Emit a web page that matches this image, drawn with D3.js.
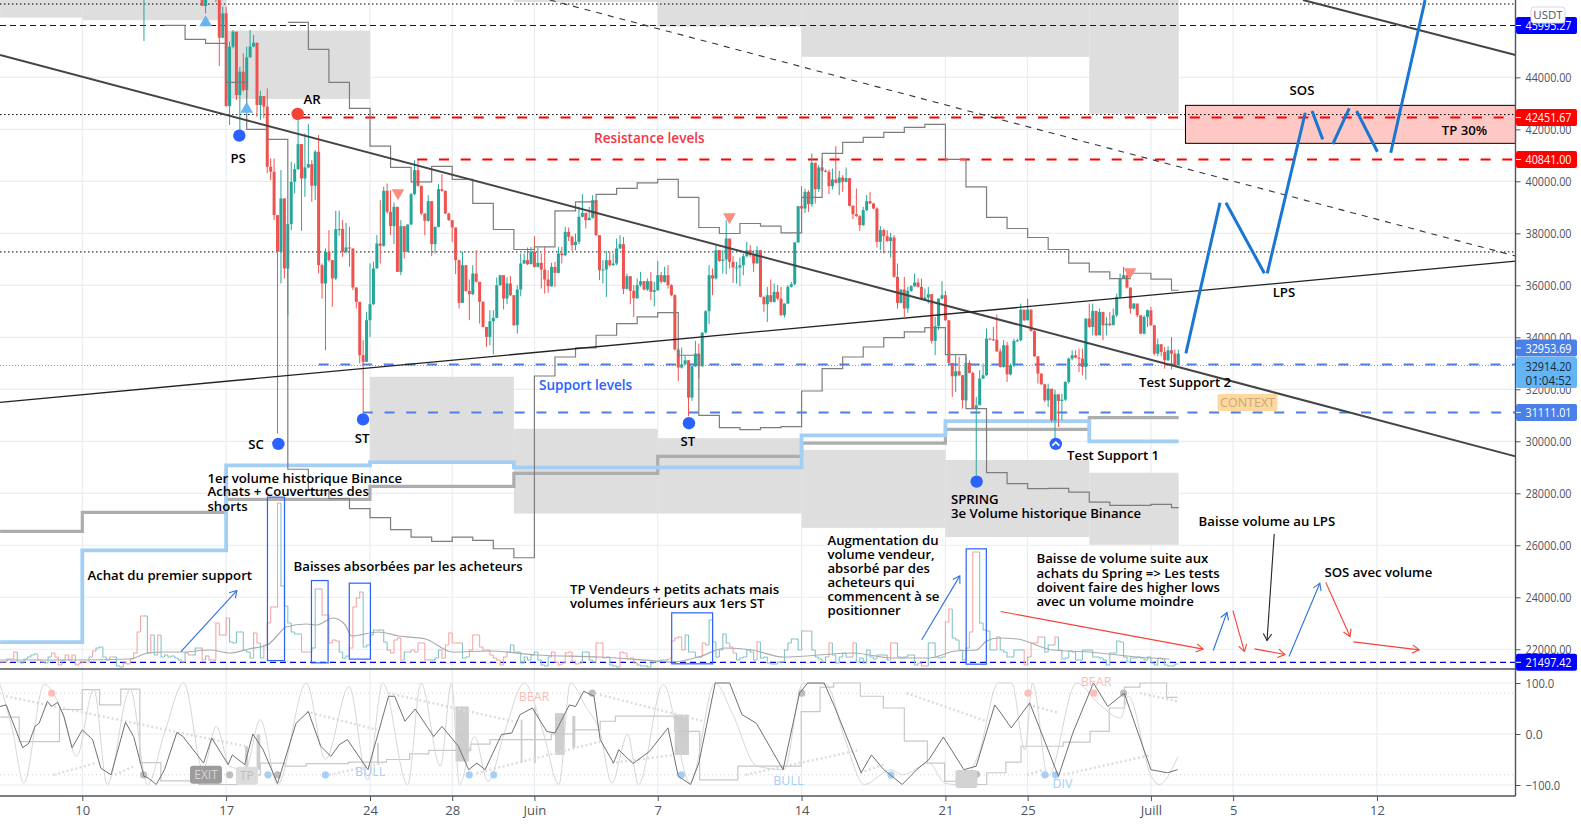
<!DOCTYPE html>
<html>
<head>
<meta charset="utf-8">
<script src="https://cdn.jsdelivr.net/npm/d3@7"></script>
<style>
  html, body { margin: 0; background: #fff; }
  svg { display: block; font-family: "Open Sans", sans-serif; }
</style>
</head>
<body>
<svg id="chart" width="1581" height="824"></svg>
<script>
// Time is in "days of May": 32 = 1 June, 62 = 1 July
const dayTicks = [10, 17, 24, 28, 32, 38, 45, 52, 56, 62, 66, 73];
const dayLabels = ["10", "17", "24", "28", "Juin", "7", "14", "21", "25", "Juill", "5", "12"];
const priceTicks = [44000, 42000, 40000, 38000, 36000, 34000, 32000, 30000, 28000, 26000, 24000, 22000];
const oscTicks = [100, 0, -100];

// 4h candles, first one at day 15.83, open of each = previous close
const firstOpen = 47300;
const closes = [
  46745, 47230, 47600, 47900, 47100, 45526, 46463, 42896, 45180, 45757, 43319, 44218, 43512, 44769, 45180, 45334, 42935, 43281, 42870, 40561,
  40368, 38700, 37289, 39342, 36648, 38354, 39984, 40471, 41433, 40112, 40535, 40664, 39830, 41138, 36776, 36070, 37289, 36969, 36263, 38162,
  38170, 37289, 37456, 37417, 35917, 35365, 33312, 33055, 34659, 35275, 36648, 37610, 37520, 39637,
  38827, 38276, 39020, 36518, 38276, 37288, 38340, 39507, 40431, 39828, 38763, 38481, 39238, 37583, 38250, 39700, 39636, 38763, 38506, 38224,
  36967, 35325, 36774, 35787, 35658, 36454, 36133, 35363, 34401, 34016, 34619, 34747, 36005, 36390, 35491, 36069, 35620, 34465, 35838, 36839,
  36967, 36813, 37288, 36710, 36864, 36608, 36223, 35966, 36710, 36479, 37223, 37159, 38057,
  37865, 37544, 37672, 38635, 38789, 38506, 38596, 39276, 37929, 36582, 36608, 36967, 36774, 36839, 37416, 37583, 35863, 36351, 35787, 35504,
  36005, 36159, 35838, 36159, 35748, 35812, 36390, 36133, 36390, 36005, 35620, 33528, 32835, 32964, 33118, 31681, 32887, 33374, 32887, 34183,
  35004, 36390, 36261, 37352, 36941, 36992, 37801, 36903, 36685, 36685, 36774, 37121, 37352, 37159, 36839, 37352, 35555, 35273, 35620, 35363,
  35748, 35491, 34850, 35299, 35940, 36043, 37647, 39045,
  38956, 39597, 39123, 40714, 39700, 40534, 40406, 40367, 39815, 40072, 39944, 40149, 39982, 40123, 39058, 38738, 38661, 38314, 38892, 39238,
  39148, 38956, 37673, 38122, 37891, 37699, 37840, 36326, 35325, 35838, 35107, 35787, 35966, 36108, 35941, 35453, 35530, 35659, 33862, 34427,
  35492, 35620, 34658, 33015, 32502, 32695, 32541, 31579, 33015, 32631, 31258, 31386, 32413, 32541, 33952,
  33924, 33911, 33462, 32859, 33693, 32577, 32923, 33860, 33886, 35066, 34655, 35066, 34245, 33270, 32603, 32192, 31576, 32025, 30807, 31807,
  31551, 31602, 32282, 33180, 33308, 33219, 33180, 32859, 34720, 34399, 35015, 34078, 34976, 34463, 34527, 34463, 34848, 35554, 36259, 36388,
  35913, 35105, 35297, 34848, 34142, 34784, 35040, 34463, 33372, 33732, 33437, 33116, 33501, 33372, 32924, 33372
];
const highs = [
  48000, 47500, 48200, 48300, 48000, 47500, 46720, 46720, 45372, 45821, 45757, 44410, 44923, 45180, 45821, 45629, 45334, 43486, 43281, 43576,
  40882, 40882, 38700, 40433, 39342, 38354, 40753, 40689, 42357, 41433, 41844, 42203, 40818, 41202, 41780, 36840, 37417, 38123, 36969, 38868,
  38868, 38508, 38405, 38252, 37417, 35917, 35365, 33889, 34980, 36840, 36904, 37931, 39278, 39791,
  39918, 39661, 39186, 39020, 38506, 38276, 38340, 39559, 40816, 40816, 39828, 38763, 39469, 39238, 38250, 39892, 40277, 39636, 38789, 38506,
  38224, 36992, 37288, 36774, 36223, 36774, 37352, 36133, 35389, 34401, 35042, 35042, 36300, 36390, 36390, 36300, 36351, 35620, 36005, 37223,
  37223, 37454, 37480, 37890, 37454, 37223, 37480, 36582, 36864, 36903, 37480, 37480, 38250,
  38224, 37904, 37993, 39020, 39507, 38789, 39020, 39469, 39276, 37929, 36967, 37313, 37288, 37223, 37801, 37929, 37865, 36454, 36351, 36005,
  36261, 36518, 36159, 36261, 36518, 36133, 36941, 36518, 36710, 36774, 36043, 35658, 33567, 33605, 33310, 33118, 32887, 33862, 33759, 34183,
  35042, 36774, 36646, 37544, 37352, 37352, 38506, 37801, 37121, 36903, 37070, 37223, 37672, 37544, 37352, 37506, 37352, 35581, 35940, 36223,
  36069, 36005, 35940, 35299, 36005, 36133, 37672, 39045,
  39815, 39726, 39661, 41073, 40714, 40624, 40880, 40457, 40457, 40495, 41355, 40406, 40239, 40534, 40123, 39084, 39726, 38699, 39020, 39469,
  39597, 39174, 38994, 38276, 38186, 38122, 38019, 37930, 36839, 35838, 36326, 35941, 36005, 36454, 36262, 36262, 35877, 35941, 35659, 34786,
  35492, 36159, 35787, 34658, 33015, 33311, 33246, 32541, 33272, 33118, 32669, 31707, 32733, 32990, 34337,
  33950, 34399, 34874, 33565, 33886, 33822, 32988, 33950, 33950, 35297, 35040, 35489, 35066, 34271, 33270, 32603, 32218, 32218, 31987, 31987,
  31807, 31833, 32310, 33219, 33501, 33501, 33565, 33565, 34720, 35297, 35297, 35015, 35105, 34976, 34784, 34976, 35105, 35682, 36452, 36708,
  36580, 35913, 35323, 35297, 34848, 34848, 35066, 35169, 34463, 33950, 33732, 33630, 33655, 34014, 33527, 33527
];
const lows = [
  46745, 46460, 47100, 47300, 46900, 44436, 45500, 42870, 42165, 45116, 43127, 41972, 43448, 43191, 44769, 45180, 42485, 42357, 42421, 40304,
  40048, 38508, 30300, 36070, 36263, 34852, 38123, 39535, 40433, 38098, 39406, 40497, 39214, 39278, 36455, 35493, 33504, 36904, 35172, 36200,
  37900, 37097, 37225, 36712, 35815, 35108, 32991, 31131, 33055, 34018, 35237, 36648, 36840, 37482,
  38760, 37929, 37583, 36518, 36390, 37031, 37288, 38314, 39469, 39790, 38699, 37929, 38442, 37121, 37223, 38224, 39597, 38737, 38481, 37672,
  36428, 35107, 35325, 35748, 34658, 35620, 36107, 34529, 34375, 33631, 33695, 33349, 34747, 35979, 35068, 35273, 35581, 34439, 34144, 35581,
  36813, 36774, 36813, 36684, 36684, 35876, 35684, 35710, 35940, 35940, 36454, 36839, 37121,
  37700, 37326, 37352, 37583, 38609, 38186, 38506, 38571, 37904, 36197, 36069, 35555, 36710, 36749, 36774, 37403, 35658, 35838, 35273, 34786,
  35479, 35940, 35812, 35787, 35427, 35196, 35787, 36069, 36107, 35876, 35581, 33503, 32322, 32797, 32925, 30963, 31553, 32861, 32412, 32861,
  34144, 34503, 35620, 36223, 36903, 36454, 36428, 36646, 36094, 36069, 35966, 36390, 37070, 37095, 36518, 37095, 35530, 34978, 34593, 35338,
  35338, 35427, 34824, 34760, 35273, 35915, 36005, 37647,
  38699, 38789, 38828, 39020, 39148, 39597, 40367, 40341, 39508, 39687, 39918, 39469, 39597, 39957, 39033, 38545, 38635, 38096, 38289, 38853,
  39123, 38930, 37455, 37352, 37224, 37673, 37070, 36300, 35107, 35299, 34786, 34940, 35748, 35941, 35915, 35427, 35427, 35299, 33760, 33311,
  34273, 35453, 34632, 32990, 31707, 31899, 32515, 31258, 31553, 32605, 31232, 28700, 31604, 32400, 32515,
  33880, 33860, 33430, 32834, 32834, 32282, 32538, 32859, 33822, 33847, 34630, 34655, 34220, 33244, 32218, 32170, 31512, 31320, 30743, 30101,
  30550, 30807, 31551, 32218, 33116, 33190, 32667, 32538, 32372, 34370, 34078, 34040, 34078, 33886, 34078, 34440, 34591, 34784, 35489, 36259,
  35874, 34912, 35079, 34784, 34120, 34117, 34399, 34440, 33308, 33270, 33270, 32795, 33090, 32757, 32924, 32949
];
// the lone wick of an older candle that dips into the view
const earlyWickDay = [13];
const earlyWickHigh = [47100];
const earlyWickLow = [45400];

// signed volume per 4h bar from day 6: positive = up bar, negative = down bar
const volumes = [
  -6, -6, 9, -9, -16, 6, 5, 9, 11, 13, 14, -8, -6, 5, 11, -15, -11, -3, 8, -13, -8, -13, -3, -5, -6, -6, 11, -17, 20, 21,
  11, 8, -11, 11, 2, 1, -5, -4, -9, -15, -36, -52, 52, 15, -33, 13, -33, 11, 13, 11, 12, 10, 8, -6, 15, -13, 13, 20, 20, -8,
  12, -8, -8, -45, -33, -33, -50, 26, 25, 36, 36, 18, 16, 10, -35, -25, 10, -23,
  -45, -61, -61, -165, 82, 62, 45, 36, 34, 34, -16, -16, -16, 20, 79, 79, -53, -53, -25, -28, -27, 16, 10, 12, -20, -61, -70, -76, 21, 23, 33, 38, 38, 38,
  26, 18, -15, -28, -30, -8, 16, 16, -18, -16, -25, -25, -8, 8, 8, 10, 18, -10, -23, -35, -25, -25, -25, 10, 11, -18, -33, -33, -21, -18, -18, -13, -10, -8, -3, -11, -16,
  23, 16, 16, 5, 11, 8, 13, 16, 8, 3, 2, 11, -16, -6, -3, -5, -15, -16, -7, -4, -5, 16, 16, 8, 6, -25,
  -25, -10, 11, 3, 2, 1, -16, -15, -9, -10, -5, 3, 2, 2, 1, 5, 6, 7, 8, 8, -9, -27, -30, -31, -18, 33, 16, 16, 11, 11,
  -25, -23, 48, 26, 11, 18, 34, 25, -21, -15, 8, 10, 11, 18, 16, 8, -26, 10, 11, 5, 4, 4, 6, 6, 18, 25, 29, 29, 18, 37,
  -37, -37, 18, 11, 9, 6, 11, -25, 13, 5, 11, 15, 11, 11, -25, 6, 10, 5, 18, 11, 9, 13, 13, 13, 8, -25, -25, 11, 10, 11,
  13, 13, 3, -5, -2, -2, 25, 25, 11, 10, 11, -46, -59, 30, 28, 18, 8, 20, -36, -116, -116, 45, 38, 37, 18, 18, -31, 18, 16, 11,
  11, 18, 18, 18, -3, 11, -25, -25, -31, -31, 16, 23, 23, -31, 18, 9, 10, 17, 16, 8, 8, 18, 18, 18, 11, 11, 10, 8, 3, 15,
  15, 27, 26, 11, 6, 10, 10, 11, 10, 8, 11, 5, 3, 10, 9, 3, 2, 2, 4
];
const volumeMA = [
  [6, 8], [9.7, 8], [12.3, 9], [13.2, 15], [14, 16], [14.9, 16], [16.2, 18], [17.2, 15], [18.1, 19], [19, 23], [19.6, 35], [19.9, 41],
  [20.9, 44], [21.4, 43], [22.2, 50], [22.8, 43], [23.1, 32], [24.4, 36], [25.4, 32], [26.7, 29], [28, 16], [29.8, 17], [32.1, 13], [35.2, 11],
  [38, 7], [38.7, 6], [40, 11], [41.3, 20], [42.6, 18], [44.1, 11], [47.5, 15], [49.4, 10], [51.2, 10], [52.5, 17], [53.5, 18], [54, 27],
  [54.6, 30], [55.5, 29], [57.2, 18], [59, 16], [61.3, 11], [62.9, 9]
];

// daily stepped range lines, first value is for the start day
const upperBandStart = 20;
const upperBand = [46118, 45078, 43807, 42806, 41355, 40535, 39981, 40574, 40073, 39149, 38148, 37378, 37478, 38864, 39211, 39495, 39727, 39942, 40073, 39380,
  38225, 37994, 38379, 38275, 38017, 39380, 41074, 41497, 41689, 41882, 42075, 42190, 40843, 39788, 38610, 38186, 37840, 37378, 36850, 36515, 36260, 36465, 36235, 35810];
const lowerBandStart = 14;
const lowerBand = [46002, 45463, 45309, 43807, 41998, 41613, 28925, 28112, 27791, 27406, 27060, 26598, 26313, 26148, 26313, 26186, 25866, 25520, 32512, 33243,
  33590, 34079, 34529, 34783, 34952, 33309, 31000, 30525, 30448, 30525, 30563, 31934, 32796, 33243, 33628, 33990, 34206, 34375, 33335, 31257, 28792, 28369, 28177, 28190,
  28046, 27660, 27535, 27535, 27572, 27445];
const bandEnd = 63.35;

// weekly thick steps
const weekStarts = [6, 10, 17, 24, 31, 38, 45, 52, 59];
const blueWeekly = [22271, 25801, 29074, 29201, 28996, 28996, 30228, 30779, 29997];
const grayWeekly = [26533, 27265, 27766, 28266, 28767, 29421, 29933, 30460, 30910];

// grey supply / demand blocks: day from, day to, price top, price bottom
const grayZones = [
  [6, 10, 47500, 46300], [10, 17, 47500, 46200], [17, 24, 45800, 43170], [31, 38, 47500, 46900], [38, 45, 47500, 45950], [45, 59, 47500, 44790],
  [59, 63.35, 47500, 42600], [24, 31, 32480, 29250], [31, 38, 30480, 27220], [38, 45, 30120, 27220], [45, 52, 29670, 26670], [52, 59, 29280, 26320], [59, 63.35, 28790, 26020]
];

// horizontal levels
const dottedLevels = [46821, 42568, 37285];
const navyLevels = [45995.27, 21497.42];
const resistanceLevels = [[20.6, 42451.67], [26.3, 40841]];
const supportLevels = [[21.5, 32953.69], [23.65, 31111.01]];
const lastPrice = 32914.2;

// trend lines: day, price, day, price
const mainTrendLines = [[6, 44859, 79.74, 29420], [69.4, 46976, 79.74, 44859]];
const thinTrendLines = [[6, 31499, 79.74, 36928]];
const dashedTrendLines = [[32.75, 46976, 79.74, 37128]];

// projected path, the strokes do not touch each other
const forecastStrokes = [
  [63.70, 33385, 65.36, 39177], [65.65, 39177, 67.52, 36462], [67.66, 36462, 69.51, 42639], [69.84, 42704, 70.36, 41615],
  [70.85, 41435, 71.65, 42808], [72.01, 42704, 73.02, 41139], [73.67, 41100, 75.34, 46973]
];
const tpBox = [63.68, 79.74, 42923, 41462];

const volumeBoxes = [
  [19.01, 19.84, 27850, 21565], [21.15, 21.96, 24643, 21477], [22.99, 24.02, 24542, 21620], [38.68, 40.67, 23400, 21439], [53.01, 53.99, 25862, 21426]
];
const blueArrows = [[14.8, 21911, 17.52, 24257], [50.85, 22362, 52.7, 24823], [65.03, 21950, 65.7, 23412], [68.72, 21719, 70.22, 24542]];
const redArrows = [[54.69, 23450, 64.54, 22004], [65.99, 23488, 66.55, 21912], [67.04, 22015, 68.52, 21796], [70.51, 24565, 71.69, 22488], [71.85, 22285, 75.05, 21977]];
const blackArrows = [[68, 26438, 67.65, 22334]];

const blueDots = [[17.64, 41757], [19.54, 29900], [23.66, 30842], [39.52, 30696], [53.52, 28450], [57.37, 29900]];
const redDots = [[20.48, 42592]];
const upTriangles = [[16, 46103], [18, 42784]];
const downTriangles = [[25.36, 39553], [41.49, 38630], [60.98, 36515]];
const crosses = [[13.12, 46014], [38.81, 30373]];

// text, day, price
const startLabels = [
  ["3e Volume historique Binance", 52.27, 27208], ["SPRING", 52.27, 27746], ["Test Support 1", 57.92, 29477], ["Test Support 2", 61.42, 32284],
  ["TP 30%", 76.15, 41976], ["1er volume historique Binance", 16.09, 28592], ["Achats + Couvertures des", 16.09, 28054], ["shorts", 16.09, 27488],
  ["Achat du premier support", 10.25, 24835], ["Baisses absorbées par les acheteurs", 20.28, 25181],
  ["TP Vendeurs + petits achats mais", 33.73, 24285], ["volumes inférieurs aux 1ers ST", 33.73, 23746],
  ["Augmentation du", 46.26, 26181], ["volume vendeur,", 46.26, 25631], ["absorbé par des", 46.26, 25092], ["acheteurs qui", 46.26, 24554], ["commencent à se", 46.26, 24015], ["positionner", 46.26, 23477],
  ["Baisse de volume suite aux", 56.43, 25477], ["achats du Spring => Les tests", 56.43, 24927], ["doivent faire des higher lows", 56.43, 24373], ["avec un volume moindre", 56.43, 23835],
  ["Baisse volume au LPS", 64.32, 26912], ["SOS avec volume", 70.44, 24950]
];
const middleLabels = [["PS", 17.58, 40899], ["AR", 21.18, 43168], ["SC", 18.45, 29900], ["ST", 23.61, 30130], ["ST", 39.47, 30015], ["SOS", 69.35, 43515], ["LPS", 68.47, 35746]];

// oscillator pane: [day, value]
const oscDark = [
  [6, 54], [6.3, 57], [6.5, 35], [7.1, -27], [7.4, -18], [7.7, 15], [7.9, 21], [8.3, 64], [8.5, 54], [8.8, 62], [9.1, 35], [9.5, -27], [10, 8], [10.5, -11],
  [10.9, -67], [11.4, -80], [12.1, 23], [12.5, -5], [13, -83], [13.2, -86], [13.6, -99], [14, -70], [14.6, 3], [14.9, -5], [15.9, -57], [16.3, -8], [17.1, -60],
  [17.3, -41], [17.9, -60], [18.3, 0], [18.8, -31], [19.5, -97], [20.4, 21], [21, 44], [21.6, -24], [22.1, -44], [22.5, -21], [22.9, -11], [23.9, -70], [24.9, 74],
  [25.2, 74], [25.7, 25], [26.2, 49], [27.1, -5], [27.5, 15], [28.3, -24], [28.8, -70], [29.2, -57], [29.6, -70], [30.4, -1], [30.9, 2], [31.3, 38], [31.9, 51],
  [32.6, 5], [33, 2], [33.7, 57], [34, 54], [34.4, 84], [34.9, 74], [35.2, -11], [35.85, -57], [36.1, -31], [36.8, -58], [37.6, -34], [38.5, 12], [39, -83],
  [39.6, -99], [40, -57], [40.8, 100], [41.5, 100], [42.1, 38], [42.8, 21], [44.1, -70], [44.9, 80], [45.3, 100], [46.1, 100], [46.6, 54], [47.9, -76], [48.4, -41],
  [49, -70], [49.9, -99], [50.6, -70], [51.2, -50], [51.9, -6], [52.9, -70], [53.5, -63], [54.4, 57], [54.7, 41], [55.2, 12], [56.1, 61], [57.5, -83], [58.2, 2],
  [59.2, 100], [59.9, 54], [60.7, 80], [62, -70], [62.8, -76], [63.3, -70]
];
const oscLight = [
  [6, 97], [6.6, 8], [7.15, -96], [8.14, 97], [9.07, 38], [9.72, -44], [10.56, 88], [11.21, -99], [12.33, 88], [13.17, -99], [14, 2], [14.94, 100], [15.87, -70],
  [16.52, 15], [17.17, -63], [17.92, -70], [18.66, 28], [19.5, -99], [20.9, 100], [21.83, -50], [22.98, 93], [23.88, -90], [24.62, 100], [25.83, -99], [26.48, 100],
  [27.42, -63], [27.97, 100], [28.35, -99], [29.09, -5], [29.74, -93], [30.58, 8], [31.51, 100], [32.44, 2], [33.19, -99], [33.75, 100], [34.49, 54], [35.2, 2],
  [35.76, -96], [36.54, -1], [37.06, -99], [38.27, 97], [39.58, -96], [40.79, 100], [41.62, 41], [42.83, -63], [44.14, -70], [45.07, 100], [46.19, 97], [47.12, -11],
  [48.05, -99], [49.35, -70], [49.91, -80], [51.21, -57], [51.96, -96], [52.52, -99], [53.64, -37], [54.57, 100], [55.22, 100], [55.87, -31], [56.24, 100], [56.99, -83],
  [58.38, 100], [59.41, 61], [60.53, 31], [60.9, 74], [62.02, -83], [62.39, -99], [63.32, -44]
];
const oscSteps = [
  [6, 33], [6.93, -15], [8.89, 48], [10, 87], [10.84, 57], [11.87, 88], [12.8, -56], [13.82, -92], [15.68, -99], [17.55, -80], [18.66, -57], [19.87, -63], [20.9, -58],
  [22.95, -55], [24.8, -50], [25.93, -39], [26.86, -32], [28.9, -20], [29.84, -11], [32.82, 0], [33.93, 8], [35.2, 25], [35.94, 35], [38.83, 5], [40.04, -90], [41.9, -63],
  [44.98, 44], [45.9, 92], [46.56, 100], [47.86, 74], [48.98, 51], [50, -14], [51.12, -57], [51.96, -93], [53.08, -99], [54.01, -76], [54.94, -55], [55.68, -24],
  [57.73, -16], [59.04, 5], [59.97, 51], [60.71, 92], [61.46, 100], [62.76, 72], [63.3, 72]
];
const oscDivergences = [
  [6.28, 74, 17.92, -24], [20.9, 44, 24.34, 8], [24.9, 80, 30.95, 25], [8.6, -80, 10.66, -57], [11.59, -80, 12.52, -63], [22.01, -80, 24.62, -57], [29.18, -77, 35.2, -15],
  [35.2, 77, 40.23, 25], [50.1, 80, 54.01, 25], [56.06, 57, 57.55, 41], [61.46, 80, 63.32, 64], [35.76, -57, 38.74, -41], [42.28, -80, 47.86, -31], [47.86, -76, 48.98, -60],
  [55.96, -80, 56.8, -70], [57.73, -80, 62.02, -41]
];
const oscShades = [
  [28.16, 28.81, 54, -54], [33, 33.47, 41, -41], [33.84, 33.99, 35, -27], [18.48, 18.66, -1, -70], [17.92, 18.07, -24, -70], [24.34, 24.43, -18, -57],
  [31.33, 31.42, 28, -57], [31.98, 32.07, 51, -57], [38.83, 39.52, 38, -41]
];
const oscRedDots = [[8.51, 80], [56.02, 80], [59.22, 80]];
const oscGrayDots = [[12.98, -80], [17.17, -80], [19.5, -80], [34.81, 80], [45.01, 80], [53.51, -79], [60.67, 80]];
const oscBlueDots = [[19.04, -80], [21.83, -80], [28.83, -80], [30.02, -80], [39.15, -80], [49.35, -80], [53.04, -80], [56.84, -80], [57.36, -80]];
const oscRedTags = [["BEAR", 31.98, 74], ["BEAR", 59.33, 103]];
const oscBlueTags = [["BULL", 24.01, -73], ["BULL", 44.36, -91], ["DIV", 57.7, -98]];
const oscGrayTags = [["EXIT", 16.02, -80, "#9c9c9c", "#d6d6d6", 30], ["TP", 18.01, -82, "#dcdcdc", "#bdbdbd", 20], ["", 53.02, -88, "#d2d2d2", "#bbb", 20]];

// right axis price flags: text, price, fill
const priceFlags = [
  ["45995.27", 45995.27, "#0000ff"], ["42451.67", 42451.67, "#ff0000"], ["40841.00", 40841, "#ff0000"], ["31111.01", 31111.01, "#4a80e8"], ["21497.42", 21497.42, "#0000ff"]
];

const svg = d3.select("#chart");
const x = d3.scaleLinear().domain([5.995, 79.74]).range([0, 1515.5]);
const y = d3.scaleLinear().domain([21240, 46976]).range([669, 0]);
const yVol = d3.scaleLinear().domain([0, 170]).range([668, 498]);
const yOsc = d3.scaleLinear().domain([-100, 100]).range([785, 683]);
const up = "#26a69a", down = "#ef5350", axisCol = "#50535e", gridCol = "#e8eef3";
const seg = (g, rows, fx, fy) => g.selectAll(null).data(rows).join("line")
  .attr("x1", d => fx(d[0])).attr("y1", d => fy(d[1])).attr("x2", d => fx(d[2])).attr("y2", d => fy(d[3]));

svg.append("defs").append("clipPath").attr("id", "mainClip").append("rect").attr("width", 1515.5).attr("height", 669);
svg.select("defs").append("clipPath").attr("id", "oscClip").append("rect").attr("y", 670).attr("width", 1515.5).attr("height", 126);

// grid
const grid = svg.append("g").attr("stroke", gridCol).attr("stroke-width", 1.2);
grid.selectAll(null).data(dayTicks).join("line").attr("x1", d => x(d)).attr("x2", d => x(d)).attr("y1", 0).attr("y2", 796);
grid.selectAll(null).data(priceTicks).join("line").attr("x1", 0).attr("x2", 1515.5).attr("y1", d => y(d)).attr("y2", d => y(d));
grid.selectAll(null).data(oscTicks).join("line").attr("x1", 0).attr("x2", 1515.5).attr("y1", d => yOsc(d)).attr("y2", d => yOsc(d));

const main = svg.append("g").attr("clip-path", "url(#mainClip)");

main.append("g").attr("fill", "#dedede").selectAll("rect").data(grayZones).join("rect")
  .attr("x", d => x(d[0])).attr("width", d => x(d[1]) - x(d[0])).attr("y", d => y(d[2])).attr("height", d => y(d[3]) - y(d[2]));

// TP box sits under the candles and levels
main.append("rect").attr("x", x(tpBox[0])).attr("width", x(tpBox[1]) - x(tpBox[0])).attr("y", y(tpBox[2])).attr("height", y(tpBox[3]) - y(tpBox[2]))
  .attr("fill", "#ffc8c4").attr("stroke", "#000").attr("stroke-width", 1);

// levels
const level = (rows, col, dash, w) => main.append("g").attr("stroke", col).attr("stroke-width", w).attr("stroke-dasharray", dash)
  .selectAll("line").data(rows).join("line").attr("x1", d => x(d[0])).attr("x2", 1515.5).attr("y1", d => y(d[1])).attr("y2", d => y(d[1]));
level(dottedLevels.map(p => [5.995, p]), "#000", "1.5 2.5", 1);
level(navyLevels.map(p => [5.995, p]), "#0000d0", "6 4", 1.2);
level([[5.995, lastPrice]], "#64a8f0", "1 2", 1);
level(resistanceLevels, "#ff0000", "10 11.7", 2);
level(supportLevels, "#4a80e8", "10 11.7", 2);

// weekly thick steps
const stepLine = d3.line().curve(d3.curveStepAfter).x(d => x(d[0])).y(d => y(d[1]));
const weekly = vals => weekStarts.map((d, i) => [d, vals[i]]).concat([[bandEnd, vals[vals.length - 1]]]);
main.append("path").attr("d", stepLine(weekly(grayWeekly))).attr("fill", "none").attr("stroke", "#adadad").attr("stroke-width", 3.2);
main.append("path").attr("d", stepLine(weekly(blueWeekly))).attr("fill", "none").attr("stroke", "#a3cff5").attr("stroke-width", 3.8);

// candles
const candles = closes.map((c, i) => ({
  day: 15.8333 + i / 6, open: i ? closes[i - 1] : firstOpen, close: c, high: highs[i], low: lows[i]
}));
const candleG = main.append("g");
candleG.append("g").attr("stroke", up).selectAll("line").data(earlyWickDay).join("line")
  .attr("x1", d => x(d)).attr("x2", d => x(d)).attr("y1", (d, i) => y(earlyWickHigh[i])).attr("y2", (d, i) => y(earlyWickLow[i]));
candleG.selectAll("line.wick").data(candles).join("line").attr("class", "wick")
  .attr("x1", d => x(d.day)).attr("x2", d => x(d.day)).attr("y1", d => y(d.high)).attr("y2", d => y(d.low))
  .attr("stroke", d => d.close >= d.open ? up : down).attr("stroke-width", 1);
candleG.selectAll("rect").data(candles).join("rect")
  .attr("x", d => x(d.day) - 1.5).attr("width", 3)
  .attr("y", d => y(Math.max(d.open, d.close))).attr("height", d => Math.max(1, Math.abs(y(d.open) - y(d.close))))
  .attr("fill", d => d.close >= d.open ? up : down);

// daily range lines
const daily = (vals, start) => vals.map((v, i) => [start + i, v]).concat([[bandEnd, vals[vals.length - 1]]]);
main.append("g").attr("fill", "none").attr("stroke", "#7d7d7d").attr("stroke-width", 1.2).selectAll("path")
  .data([daily(upperBand, upperBandStart), daily(lowerBand, lowerBandStart)]).join("path").attr("d", stepLine);

// volume as stepped outline
const barW = x(6 + 1 / 6) - x(6);
const volG = main.append("g").attr("fill", "none").attr("stroke-width", 1.1);
volG.selectAll("path").data(volumes).join("path")
  .attr("stroke", d => d >= 0 ? "#86c5c9" : "#f6a6a6")
  .attr("d", (d, i) => {
    const prev = i ? Math.abs(volumes[i - 1]) : Math.abs(d);
    const x0 = x(6 + i / 6);
    return d3.line()([[x0, yVol(prev)], [x0, yVol(Math.abs(d))], [x0 + barW, yVol(Math.abs(d))]]);
  });
main.append("path").attr("fill", "none").attr("stroke", "#ababab").attr("stroke-width", 1.2)
  .attr("d", d3.line().curve(d3.curveMonotoneX).x(d => x(d[0])).y(d => yVol(d[1]))(volumeMA));

// trend lines
seg(main.append("g").attr("stroke", "#454545").attr("stroke-width", 2), mainTrendLines, x, y);
seg(main.append("g").attr("stroke", "#222").attr("stroke-width", 1.3), thinTrendLines, x, y);
seg(main.append("g").attr("stroke", "#333").attr("stroke-width", 1.1).attr("stroke-dasharray", "6 6"), dashedTrendLines, x, y);

// forecast
seg(main.append("g").attr("stroke", "#1976d2").attr("stroke-width", 3), forecastStrokes, x, y);

// boxes and arrows over the volume
main.append("g").attr("fill", "none").attr("stroke", "#2962ff").attr("stroke-width", 1.2).selectAll("rect").data(volumeBoxes).join("rect")
  .attr("x", d => x(d[0])).attr("width", d => x(d[1]) - x(d[0])).attr("y", d => y(d[2])).attr("height", d => y(d[3]) - y(d[2]));
function arrows(rows, col) {
  const g = main.append("g").attr("stroke", col).attr("stroke-width", 1.1).attr("fill", "none");
  seg(g, rows, x, y);
  g.selectAll("path").data(rows).join("path").attr("d", d => {
    const tx = x(d[2]), ty = y(d[3]), a = Math.atan2(ty - y(d[1]), tx - x(d[0])), L = 8;
    const p = s => [tx - L * Math.cos(a + s), ty - L * Math.sin(a + s)];
    return d3.line()([p(0.55), [tx, ty], p(-0.55)]);
  });
}
arrows(blueArrows, "#2f6fe0");
arrows(redArrows, "#f44336");
arrows(blackArrows, "#222");

// markers
const dots = (rows, col) => main.append("g").attr("fill", col).selectAll("circle").data(rows).join("circle")
  .attr("cx", d => x(d[0])).attr("cy", d => y(d[1])).attr("r", 6.2);
dots(blueDots, "#2962ff");
dots(redDots, "#f44336");
const last = blueDots[blueDots.length - 1];
main.append("path").attr("fill", "none").attr("stroke", "#fff").attr("stroke-width", 1.8)
  .attr("d", `M${x(last[0]) - 3.5},${y(last[1]) + 1.8}l3.5,-3.5l3.5,3.5`);
const triangle = d3.symbol().type(d3.symbolTriangle).size(70);
main.append("g").attr("fill", "#64b5f6").selectAll("path").data(upTriangles).join("path").attr("d", triangle)
  .attr("transform", d => `translate(${x(d[0])},${y(d[1])})`);
main.append("g").attr("fill", "#ff8a80").selectAll("path").data(downTriangles).join("path").attr("d", triangle)
  .attr("transform", d => `translate(${x(d[0])},${y(d[1])}) rotate(180)`);
main.append("g").attr("fill", "#222").selectAll("path").data(crosses).join("path").attr("d", d3.symbol().type(d3.symbolX).size(36))
  .attr("transform", d => `translate(${x(d[0])},${y(d[1])})`);

// labels
const text = (g, rows, anchor) => g.selectAll(null).data(rows).join("text")
  .attr("x", d => x(d[1])).attr("y", d => y(d[2])).attr("dy", "0.35em").attr("text-anchor", anchor).text(d => d[0]);
const labels = main.append("g").attr("font-size", 13.2).attr("fill", "#000").attr("font-weight", 600);
text(labels, startLabels, "start");
text(labels, middleLabels, "middle");
main.append("text").attr("x", x(34.9)).attr("y", y(41668)).attr("dy", "0.35em").attr("font-size", 13.6).attr("font-weight", 600).attr("fill", "#f23645").text("Resistance levels");
main.append("text").attr("x", x(32.22)).attr("y", y(32169)).attr("dy", "0.35em").attr("font-size", 13.6).attr("font-weight", 600).attr("fill", "#2962ff").text("Support levels");
const context = main.append("g").attr("transform", `translate(${x(66.7)},${y(31496)})`);
context.append("rect").attr("x", -30).attr("y", -8.5).attr("width", 60).attr("height", 17).attr("rx", 2).attr("fill", "#ffd8a0");
context.append("text").attr("text-anchor", "middle").attr("dy", "0.35em").attr("font-size", 12.5).attr("fill", "#c9a878").text("CONTEXT");

// oscillator pane
const osc = svg.append("g").attr("clip-path", "url(#oscClip)");
osc.append("g").attr("stroke", "#cfcfcf").attr("stroke-dasharray", "1 3").selectAll("line").data([80, -80]).join("line")
  .attr("x1", 0).attr("x2", 1515.5).attr("y1", d => yOsc(d)).attr("y2", d => yOsc(d));
osc.append("g").attr("fill", "#bdbdbd").attr("fill-opacity", 0.75).selectAll("rect").data(oscShades).join("rect")
  .attr("x", d => x(d[0])).attr("width", d => x(d[1]) - x(d[0])).attr("y", d => yOsc(d[2])).attr("height", d => yOsc(d[3]) - yOsc(d[2]));
seg(osc.append("g").attr("stroke", "#dcdcdc").attr("stroke-width", 2.4).attr("stroke-dasharray", "2 2.5"), oscDivergences, x, yOsc);
const oscPath = (rows, curve, col, w) => osc.append("path").attr("fill", "none").attr("stroke", col).attr("stroke-width", w)
  .attr("d", d3.line().curve(curve).x(d => x(d[0])).y(d => yOsc(d[1]))(rows));
oscPath(oscSteps, d3.curveStepAfter, "#c8c8c8", 1.2);
oscPath(oscLight, d3.curveMonotoneX, "#d6d6d6", 1);
const oscDots = (rows, col) => osc.append("g").attr("fill", col).selectAll("circle").data(rows).join("circle")
  .attr("cx", d => x(d[0])).attr("cy", d => yOsc(d[1])).attr("r", 3.6);
oscDots(oscRedDots, "#ffbdb8");
oscDots(oscGrayDots, "#bdbdbd");
oscDots(oscBlueDots, "#a5cff5");
const tagG = osc.selectAll(null).data(oscGrayTags).join("g").attr("transform", d => `translate(${x(d[1])},${yOsc(d[2])})`);
tagG.append("rect").attr("x", d => -d[5] / 2 - 1).attr("y", -9).attr("width", d => d[5] + 2).attr("height", 18).attr("rx", 3).attr("fill", d => d[3]);
tagG.append("text").attr("text-anchor", "middle").attr("dy", "0.35em").attr("font-size", 12).attr("fill", d => d[4]).text(d => d[0]);
oscPath(oscDark, d3.curveLinear, "#707070", 1);
const tags = (rows, col) => osc.append("g").attr("font-size", 12.5).attr("fill", col).selectAll("text").data(rows).join("text")
  .attr("x", d => x(d[1])).attr("y", d => yOsc(d[2])).attr("dy", "0.35em").attr("text-anchor", "middle").text(d => d[0]);
tags(oscRedTags, "#f9bdb8");
tags(oscBlueTags, "#a5cff5");

// panes and axes
const panes = svg.append("g").attr("stroke", axisCol);
panes.append("line").attr("x1", 0).attr("x2", 1515.5).attr("y1", 669).attr("y2", 669).attr("stroke-width", 1.4);
panes.append("line").attr("x1", 0).attr("x2", 1515.5).attr("y1", 796).attr("y2", 796).attr("stroke-width", 1.4);
panes.append("line").attr("x1", 1515.5).attr("x2", 1515.5).attr("y1", 0).attr("y2", 796).attr("stroke-width", 1.4);

// axis numbers are narrower in the reference than in this font
const squeeze = s => s.attr("textLength", function () { return this.textContent.length * 5.75; }).attr("lengthAdjust", "spacingAndGlyphs");
const styleAxis = g => {
  g.select(".domain").remove();
  g.selectAll(".tick line").attr("stroke", axisCol);
  g.selectAll(".tick text").attr("fill", axisCol).attr("font-size", 13).attr("font-family", '"Open Sans", sans-serif');
};
svg.append("g").attr("transform", "translate(1515.5,0)")
  .call(d3.axisRight(y).tickValues(priceTicks).tickFormat(d3.format(".2f")).tickSize(5).tickPadding(5)).call(styleAxis)
  .selectAll(".tick text").call(squeeze);
svg.append("g").attr("transform", "translate(1515.5,0)")
  .call(d3.axisRight(yOsc).tickValues(oscTicks).tickFormat(d => d3.format(".1f")(d).replace("-", "\u2212")).tickSize(5).tickPadding(5)).call(styleAxis)
  .selectAll(".tick text").call(squeeze);
svg.append("g").attr("transform", "translate(0,796)")
  .call(d3.axisBottom(x).tickValues(dayTicks).tickFormat((d, i) => dayLabels[i]).tickSize(5).tickPadding(5)).call(styleAxis);

// price flags on the right axis
function flag(label, py, col, h) {
  const g = svg.append("g").attr("transform", `translate(1516,${py})`);
  g.append("rect").attr("y", -h / 2).attr("width", 61).attr("height", h).attr("rx", 2).attr("fill", col);
  g.append("line").attr("x1", 0).attr("x2", 5).attr("stroke", "#fff");
  g.append("text").attr("x", 9.5).attr("dy", "0.35em").attr("font-size", 13).attr("fill", "#fff").text(label).call(squeeze);
  return g;
}
priceFlags.forEach(d => flag(d[0], y(d[1]), d[2], 17));
flag("32953.69", 348, "#4a80e8", 17); // pushed up so it does not sit on the last price
const lastFlag = svg.append("g").attr("transform", "translate(1516,357)");
lastFlag.append("rect").attr("width", 61).attr("height", 31).attr("rx", 2).attr("fill", "#64b5f6");
lastFlag.append("text").attr("x", 9.5).attr("y", 9).attr("dy", "0.35em").attr("font-size", 13).attr("fill", "#1a2a3a").text("32914.20").call(squeeze);
lastFlag.append("text").attr("x", 9.5).attr("y", 23).attr("dy", "0.35em").attr("font-size", 13).attr("fill", "#1a2a3a").text("01:04:52").call(squeeze);
const usdt = svg.append("g").attr("transform", "translate(1531,7)");
usdt.append("rect").attr("width", 34).attr("height", 16).attr("rx", 3).attr("fill", "#fff").attr("stroke", "#d6d8dc");
usdt.append("text").attr("x", 17).attr("y", 8).attr("dy", "0.35em").attr("text-anchor", "middle").attr("font-size", 11.5).attr("fill", axisCol).text("USDT");
</script>
</body>
</html>
